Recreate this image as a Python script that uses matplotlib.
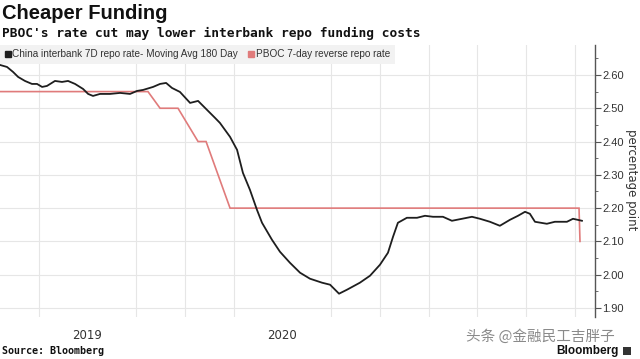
import matplotlib
matplotlib.use("Agg")
import matplotlib.pyplot as plt
from matplotlib.lines import Line2D
from matplotlib.patches import Rectangle
import numpy as np

# China interbank 7D repo rate, 180-day moving average (decimal years, %)
repo_t = [2019.051, 2019.087, 2019.118, 2019.144, 2019.179, 2019.215, 2019.241,
          2019.267, 2019.292, 2019.333, 2019.369, 2019.400, 2019.436, 2019.477,
          2019.503, 2019.528, 2019.564, 2019.615, 2019.667, 2019.718, 2019.754,
          2019.785, 2019.836, 2019.872, 2019.903, 2019.933, 2019.974, 2020.026,
          2020.067, 2020.113, 2020.154, 2020.179, 2020.231, 2020.267, 2020.297,
          2020.333, 2020.369, 2020.395, 2020.446, 2020.487, 2020.538, 2020.590,
          2020.641, 2020.703, 2020.744, 2020.790, 2020.831, 2020.897, 2020.949,
          2021.000, 2021.041, 2021.067, 2021.092, 2021.138, 2021.190, 2021.231,
          2021.272, 2021.323, 2021.369, 2021.421, 2021.472, 2021.513, 2021.564,
          2021.615, 2021.667, 2021.708, 2021.744, 2021.769, 2021.795, 2021.856,
          2021.897, 2021.959, 2021.990, 2022.036]
repo_v = [2.630, 2.624, 2.609, 2.594, 2.582, 2.573, 2.573,
          2.564, 2.567, 2.582, 2.579, 2.582, 2.573, 2.558,
          2.543, 2.537, 2.543, 2.543, 2.546, 2.543, 2.552,
          2.555, 2.564, 2.573, 2.576, 2.561, 2.549, 2.516,
          2.522, 2.495, 2.471, 2.456, 2.414, 2.375, 2.306,
          2.255, 2.195, 2.156, 2.105, 2.069, 2.036, 2.006,
          1.988, 1.976, 1.970, 1.943, 1.955, 1.976, 1.997,
          2.030, 2.066, 2.114, 2.156, 2.171, 2.171, 2.177,
          2.174, 2.174, 2.162, 2.168, 2.174, 2.168, 2.159,
          2.147, 2.165, 2.177, 2.189, 2.183, 2.159, 2.153,
          2.159, 2.159, 2.168, 2.162]

# PBOC 7-day reverse repo rate
pboc_t = [2019.051, 2019.810, 2019.872, 2019.964, 2020.067, 2020.108, 2020.231,
          2022.021, 2022.026]
pboc_v = [2.55, 2.55, 2.50, 2.50, 2.40, 2.40, 2.20, 2.20, 2.10]

year_labels = ["2019", "2020"]
year_pos = [2019.5, 2020.5]
quarters = np.arange(2019.25, 2022.01, 0.25)
y_ticks = [1.90, 2.00, 2.10, 2.20, 2.30, 2.40, 2.50, 2.60]

black = "#1e1e1e"
red = "#e07b7b"
sans = ["Liberation Sans", "DejaVu Sans"]

fig = plt.figure(figsize=(6.4, 3.59), dpi=100)
ax = fig.add_axes([0.0, 0.117, 0.9297, 0.7577])

ax.plot(pboc_t, pboc_v, color=red, lw=1.2, solid_joinstyle="miter")
ax.plot(repo_t, repo_v, color=black, lw=1.3)

ax.set_xlim(2019.051, 2022.103)
ax.set_ylim(1.873, 2.69)

# axes / ticks
for s in ["top", "left", "bottom"]:
    ax.spines[s].set_visible(False)
ax.spines["right"].set_color("#555555")
ax.spines["right"].set_linewidth(1.0)
ax.yaxis.tick_right()
ax.set_yticks(y_ticks)
ax.set_yticklabels([f"{v:.2f}" for v in y_ticks], fontsize=8, family=sans,
                   color="#333333")
ax.set_yticks(np.arange(1.95, 2.66, 0.1), minor=True)
ax.tick_params(axis="y", which="major", length=4, width=0.8, color="#555555", pad=1)
ax.tick_params(axis="y", which="minor", length=2, width=0.6, color="#555555")
ax.text(1.062, 0.504, "percentage point", transform=ax.transAxes, rotation=270,
        ha="center", va="center", fontsize=8.5, color="#333333")

ax.set_xticks(year_pos)
ax.set_xticklabels(year_labels, fontsize=8.5, color="#333333")
ax.set_xticks(quarters, minor=True)
ax.tick_params(axis="x", which="both", length=0, pad=9)

ax.grid(axis="y", which="major", color="#e6e6e6", lw=0.8)
ax.grid(axis="x", which="minor", color="#e6e6e6", lw=0.8)
ax.set_axisbelow(True)

# legend
handles = [Line2D([], [], marker="s", ls="none", color=black, markersize=5),
           Line2D([], [], marker="s", ls="none", color=red, markersize=5)]
leg = ax.legend(handles, ["China interbank 7D repo rate- Moving Avg 180 Day",
                          "PBOC 7-day reverse repo rate"],
                loc="upper left", bbox_to_anchor=(0.0, 1.0), ncol=2,
                frameon=True, facecolor="#f2f2f2", edgecolor="none", framealpha=1,
                fancybox=False, handlelength=0.6, handletextpad=0.2,
                columnspacing=1.0, borderpad=0.45, borderaxespad=0.0,
                prop={"family": sans, "size": 7.2})
for t in leg.get_texts():
    t.set_color("#333333")

# titles and footer
fig.text(0.003, 0.962, "Cheaper Funding", fontsize=14.5, fontweight="bold",
         family=sans, va="center", ha="left", color="#111111")
fig.text(0.003, 0.907, "PBOC's rate cut may lower interbank repo funding costs",
         fontsize=9.3, fontweight="bold", family="DejaVu Sans Mono",
         va="center", ha="left", color="#111111")
fig.text(0.003, 0.022, "Source: Bloomberg", fontsize=7.2, fontweight="bold",
         family="DejaVu Sans Mono", va="center", ha="left", color="#111111")
fig.text(0.966, 0.022, "Bloomberg", fontsize=8.5, fontweight="bold",
         family=sans, va="center", ha="right", color="#111111")
fig.patches.append(Rectangle((0.973, 0.01), 0.013, 0.024, transform=fig.transFigure,
                             facecolor="#333333", edgecolor="none"))
fig.text(0.728, 0.063, "头条 @金融民工吉胖子", fontsize=10.5,
         family=["Noto Sans CJK SC", "DejaVu Sans"], va="center", ha="left",
         color="#8a8a8a")

fig.savefig("out.png", dpi=100)
